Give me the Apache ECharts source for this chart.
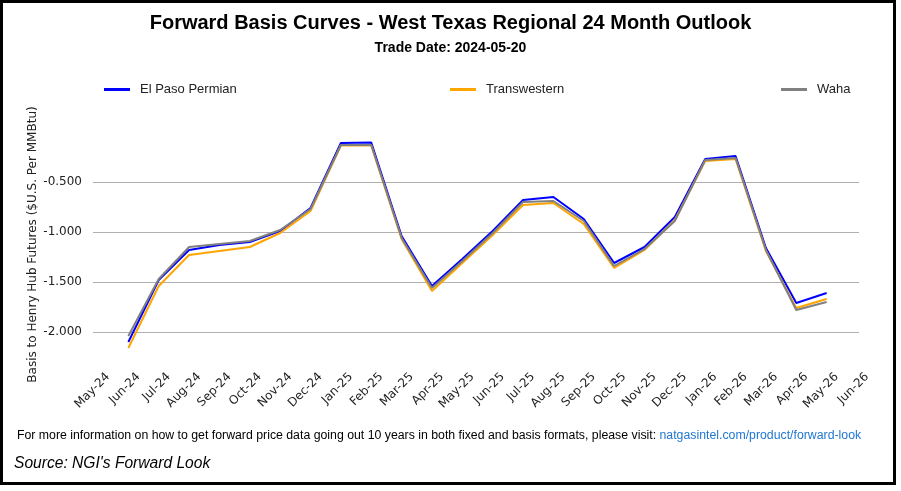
<!DOCTYPE html>
<html><head><meta charset="utf-8">
<script src="https://cdn.jsdelivr.net/npm/echarts@6/dist/echarts.min.js"></script>
<style>html,body{margin:0;padding:0;background:#fff}#c{width:901px;height:491px}</style>
</head><body><div id="c"></div>
<script>
const months = ['May-24','Jun-24','Jul-24','Aug-24','Sep-24','Oct-24','Nov-24','Dec-24','Jan-25','Feb-25','Mar-25','Apr-25','May-25','Jun-25','Jul-25','Aug-25','Sep-25','Oct-25','Nov-25','Dec-25','Jan-26','Feb-26','Mar-26','Apr-26','May-26','Jun-26'];
const elPaso = [null,-2.10,-1.48,-1.18,-1.13,-1.10,-0.99,-0.76,-0.11,-0.105,-1.04,-1.54,-1.27,-0.99,-0.68,-0.65,-0.87,-1.31,-1.15,-0.85,-0.27,-0.24,-1.16,-1.71,-1.61,null];
const transwestern = [null,-2.16,-1.54,-1.23,-1.19,-1.15,-1.01,-0.79,-0.135,-0.135,-1.07,-1.59,-1.31,-1.03,-0.73,-0.71,-0.92,-1.36,-1.18,-0.88,-0.29,-0.27,-1.19,-1.76,-1.67,null];
const waha = [null,-2.04,-1.47,-1.15,-1.12,-1.09,-0.98,-0.77,-0.13,-0.13,-1.06,-1.56,-1.29,-1.01,-0.70,-0.69,-0.89,-1.34,-1.17,-0.89,-0.28,-0.26,-1.18,-1.78,-1.70,null];
const yTicks = [-2.0,-1.5,-1.0,-0.5];
const seriesNames = ['El Paso Permian','Transwestern','Waha'];
const colors = ['#0000ff','#ffa500','#808080'];

const chart = echarts.init(document.getElementById('c'), null, {renderer:'canvas'});
const dv = 'DejaVu Sans';
const ar = 'Liberation Sans, Arial, sans-serif';
function mkSeries(name, data, color){
  return {name, type:'line', data, xAxisIndex:0, yAxisIndex:0, showSymbol:false, symbol:'none',
    lineStyle:{color, width:2}, itemStyle:{color}, animation:false};
}
function mkLegend(name, left){
  return {data:[name], left, top:78, icon:'rect', itemWidth:26, itemHeight:3, itemGap:6,
    textStyle:{fontFamily:ar, fontSize:13, color:'#222', padding:[0,0,0,5]}, selectedMode:false};
}
chart.setOption({
  animation:false,
  backgroundColor:'#fff',
  title:[
    {text:'Forward Basis Curves - West Texas Regional 24 Month Outlook', left:'center', top:8,
     textStyle:{fontFamily:ar, fontSize:20, fontWeight:'bold', color:'#000'}},
    {text:'Trade Date: 2024-05-20', left:'center', top:36,
     textStyle:{fontFamily:ar, fontSize:14, fontWeight:'bold', color:'#000'}}
  ],
  legend:[mkLegend(seriesNames[0],99), mkLegend(seriesNames[1],445), mkLegend(seriesNames[2],776)],
  grid:[
    {left:98, right:44, top:132, bottom:134},
    {left:108, right:34, top:132, bottom:134},
    {left:93, right:42, top:132, bottom:134}
  ],
  xAxis:[
    {type:'category', gridIndex:0, data:months, boundaryGap:false,
     axisLine:{show:false}, axisTick:{show:false}, axisLabel:{show:false}, splitLine:{show:false}},
    {type:'category', gridIndex:1, data:months, boundaryGap:false,
     axisLine:{show:false}, axisTick:{show:false}, splitLine:{show:false},
     axisLabel:{rotate:45, margin:18, interval:0, fontFamily:dv, fontSize:12, color:'#222'}},
    {type:'category', gridIndex:2, data:months, show:false}
  ],
  yAxis:[
    {type:'value', gridIndex:0, min:-2.25, max:0, show:false},
    {type:'value', gridIndex:1, show:false, min:-2.25, max:0},
    {type:'value', gridIndex:2, min:-2.25, max:0,
     name:'Basis to Henry Hub Futures ($U.S. Per MMBtu)', nameLocation:'middle', nameGap:54,
     nameMoveOverlap:false,
     nameTextStyle:{fontFamily:dv, fontSize:12, color:'#222'},
     axisLine:{show:false}, axisTick:{show:false, customValues:yTicks},
     axisLabel:{customValues:yTicks, fontFamily:dv, fontSize:12, color:'#222', margin:11,
       formatter:v=>v.toFixed(3)},
     splitLine:{show:true, lineStyle:{color:'#b0b0b0', width:1}}}
  ],
  series:[
    mkSeries(seriesNames[0], elPaso, colors[0]),
    mkSeries(seriesNames[1], transwestern, colors[1]),
    mkSeries(seriesNames[2], waha, colors[2])
  ],
  graphic:[
    {type:'rect', shape:{x:1.5, y:1.5, width:893, height:482}, style:{fill:null, stroke:'#000', lineWidth:3}, silent:true},
    {type:'text', left:17, top:430, style:{
      text:'{a|For more information on how to get forward price data going out 10 years in both fixed and basis formats, please visit: }{b|natgasintel.com/product/forward-look}',
      rich:{a:{fontFamily:ar, fontSize:12.3, fill:'#000'}, b:{fontFamily:ar, fontSize:12.3, fill:'#1f77d0'}}}},
    {type:'text', left:14, top:456, style:{text:"Source: NGI's Forward Look", fontFamily:ar, fontSize:15.6, fontStyle:'italic', fill:'#000'}}
  ]
});
</script>
</body></html>
